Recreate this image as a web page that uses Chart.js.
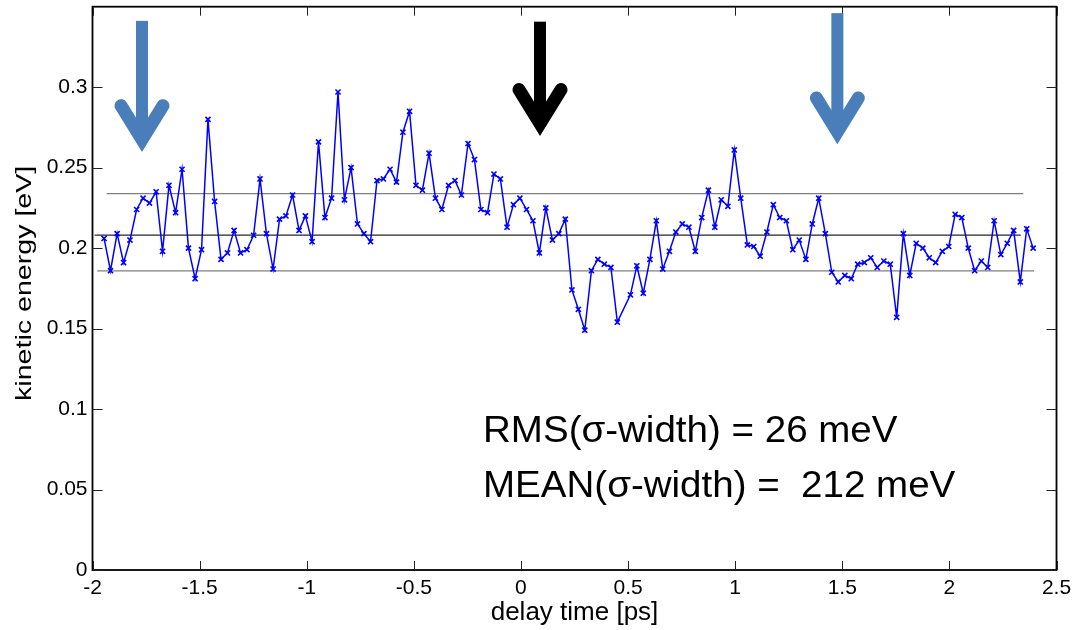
<!DOCTYPE html>
<html><head><meta charset="utf-8">
<script src="https://cdn.jsdelivr.net/npm/chart.js@4/dist/chart.umd.min.js"></script>
<style>html,body{margin:0;padding:0;background:#fff}#wrap{width:1073px;height:630px;position:relative}</style>
</head><body><div id="wrap"><canvas id="c"></canvas></div>
<script>
const delayTime = [-1.946,-1.916,-1.885,-1.855,-1.825,-1.794,-1.764,-1.734,-1.703,-1.673,
-1.643,-1.612,-1.582,-1.552,-1.521,-1.491,-1.461,-1.430,-1.400,-1.370,
-1.339,-1.309,-1.279,-1.248,-1.218,-1.188,-1.157,-1.127,-1.097,-1.066,
-1.036,-1.006,-0.975,-0.945,-0.915,-0.884,-0.854,-0.824,-0.793,-0.763,
-0.733,-0.702,-0.672,-0.642,-0.611,-0.581,-0.551,-0.520,-0.490,-0.460,
-0.429,-0.399,-0.369,-0.338,-0.308,-0.278,-0.247,-0.217,-0.187,-0.156,
-0.126,-0.096,-0.065,-0.035,-0.005,0.026,0.056,0.086,0.116,0.147,
0.177,0.207,0.238,0.268,0.298,0.329,0.359,0.389,0.420,0.450,
0.511,0.541,0.571,0.602,0.632,0.662,0.693,0.723,0.753,0.784,
0.814,0.844,0.875,0.905,0.935,0.966,0.996,1.026,1.057,1.087,
1.117,1.148,1.178,1.208,1.239,1.269,1.299,1.330,1.360,1.390,
1.421,1.451,1.481,1.512,1.542,1.572,1.603,1.633,1.663,1.694,
1.724,1.754,1.785,1.815,1.845,1.876,1.906,1.936,1.967,1.997,
2.027,2.058,2.088,2.118,2.149,2.179,2.209,2.240,2.270,2.300,
2.331,2.361,2.391];
const kineticEnergy = [0.206,0.186,0.209,0.191,0.205,0.224,0.231,0.228,0.235,0.198,
0.239,0.222,0.249,0.200,0.181,0.199,0.280,0.229,0.193,0.197,
0.211,0.197,0.199,0.208,0.243,0.209,0.187,0.218,0.220,0.233,
0.211,0.220,0.204,0.266,0.219,0.231,0.297,0.230,0.250,0.215,
0.209,0.204,0.242,0.243,0.249,0.241,0.272,0.285,0.239,0.236,
0.259,0.231,0.224,0.239,0.242,0.233,0.265,0.255,0.224,0.222,
0.246,0.243,0.213,0.227,0.231,0.224,0.217,0.197,0.225,0.205,
0.209,0.218,0.174,0.162,0.149,0.186,0.193,0.190,0.188,0.154,
0.171,0.189,0.172,0.193,0.217,0.187,0.198,0.210,0.215,0.213,
0.198,0.219,0.236,0.213,0.230,0.226,0.261,0.231,0.202,0.201,
0.195,0.210,0.227,0.219,0.217,0.199,0.205,0.193,0.215,0.231,
0.209,0.185,0.179,0.183,0.181,0.190,0.191,0.194,0.188,0.192,
0.190,0.157,0.209,0.183,0.203,0.200,0.194,0.191,0.198,0.201,
0.221,0.219,0.200,0.186,0.192,0.188,0.217,0.196,0.203,0.211,
0.179,0.212,0.200];
const refLevels = [0.2338, 0.2081, 0.1858];
const refStarts = [-1.934, -1.99, -1.978];
const refEnds = [2.345, 2.333, 2.395];
const refColors = ['#7f7f7f', '#262626', '#7f7f7f'];
const xTicks = [-2,-1.5,-1,-0.5,0,0.5,1,1.5,2,2.5];
const xTickLabels = ['-2','-1.5','-1','-0.5','0','0.5','1','1.5','2','2.5'];
const yTicks = [0,0.05,0.1,0.15,0.2,0.25,0.3];
const yTickLabels = ['0','0.05','0.1','0.15','0.2','0.25','0.3'];
const yTitle = 'kinetic energy [eV]';
const xTitle = 'delay time [ps]';
const annotationLines = ['RMS(\u03c3-width) = 26 meV', 'MEAN(\u03c3-width) =  212 meV'];
const annotationPos = {x: -0.177, y: [0.0796, 0.0454]};
const arrowX = [-1.769, 0.089, 1.477];
const arrowTop = [0.3412, 0.3407, 0.346];
const arrowTip = [0.2593, 0.2693, 0.2641];
const arrowColors = ['#4a7ebb', '#000000', '#4a7ebb'];

const FONT = "'Liberation Sans', Arial, sans-serif";

const datasets = [{
  data: delayTime.map((t, i) => ({x: t, y: kineticEnergy[i]})),
  borderColor: '#0000ff', backgroundColor: '#0000ff',
  borderWidth: 1.5, pointStyle: 'crossRot', pointRadius: 3.6,
  pointBorderWidth: 1.6, pointBorderColor: '#0000ff', tension: 0, order: 0
}];
refLevels.forEach((lv, i) => datasets.push({
  data: [{x: refStarts[i], y: lv}, {x: refEnds[i], y: lv}],
  borderColor: refColors[i], borderWidth: 1.3, pointRadius: 0, order: 1
}));

const decor = {
  id: 'decor',
  afterDatasetsDraw(chart) {
    const {ctx, chartArea: a, scales: {x, y}} = chart;
    ctx.save();
    // box
    ctx.strokeStyle = '#000'; ctx.lineWidth = 1.8;
    ctx.strokeRect(a.left, a.top, a.right - a.left, a.bottom - a.top);
    // inward ticks
    ctx.lineWidth = 1; ctx.strokeStyle = '#222';
    ctx.beginPath();
    xTicks.forEach(v => {
      const p = Math.round(x.getPixelForValue(v)) + 0.5;
      ctx.moveTo(p, a.bottom); ctx.lineTo(p, a.bottom - 9);
      ctx.moveTo(p, a.top); ctx.lineTo(p, a.top + 9);
    });
    yTicks.forEach(v => {
      const p = Math.round(y.getPixelForValue(v)) + 0.5;
      ctx.moveTo(a.left, p); ctx.lineTo(a.left + 10, p);
      ctx.moveTo(a.right, p); ctx.lineTo(a.right - 10, p);
    });
    ctx.stroke();
    // y title (stretched along its length like the reference)
    ctx.fillStyle = '#000';
    ctx.save();
    ctx.translate(31, (a.top + a.bottom) / 2 - 5);
    ctx.rotate(-Math.PI / 2);
    ctx.scale(1.3, 1);
    ctx.font = '22px ' + FONT;
    ctx.textAlign = 'center'; ctx.textBaseline = 'alphabetic';
    ctx.fillText(yTitle, 0, 0);
    ctx.restore();
    // annotation text
    ctx.font = '36px ' + FONT;
    ctx.textAlign = 'left'; ctx.textBaseline = 'alphabetic';
    annotationLines.forEach((s, i) => {
      ctx.save();
      ctx.translate(x.getPixelForValue(annotationPos.x), y.getPixelForValue(annotationPos.y[i]));
      ctx.scale(1.07, 1);
      ctx.fillText(s, 0, 0);
      ctx.restore();
    });
    // arrows
    arrowX.forEach((ax, i) => {
      const cx = x.getPixelForValue(ax);
      const top = y.getPixelForValue(arrowTop[i]);
      const tip = y.getPixelForValue(arrowTip[i]);
      ctx.fillStyle = arrowColors[i]; ctx.strokeStyle = arrowColors[i];
      ctx.fillRect(cx - 6, top, 12, tip - top - 20);
      ctx.lineWidth = 13; ctx.lineCap = 'round'; ctx.lineJoin = 'miter'; ctx.miterLimit = 10;
      ctx.beginPath();
      ctx.moveTo(cx - 21, tip - 47);
      ctx.lineTo(cx, tip - 13);
      ctx.lineTo(cx + 21, tip - 47);
      ctx.stroke();
    });
    ctx.restore();
  }
};

new Chart(document.getElementById('c'), {
  type: 'line',
  data: {datasets},
  options: {
    responsive: true, maintainAspectRatio: false, animation: false,
    layout: {padding: {left: 0, top: 6.7, right: 16.5, bottom: 0}},
    plugins: {legend: {display: false}, tooltip: {enabled: false}},
    scales: {
      x: {
        type: 'linear', min: -2, max: 2.5,
        afterBuildTicks: s => { s.ticks = xTicks.map(v => ({value: v})); },
        afterFit: s => { s.height = 60; s.paddingLeft = 0; s.paddingRight = 0; },
        grid: {display: false, drawTicks: false},
        border: {display: false},
        ticks: {color: '#000', font: {family: FONT, size: 21}, padding: 6, maxRotation: 0, autoSkip: false,
          callback: (v) => xTickLabels[xTicks.indexOf(v)]},
        title: {display: true, text: xTitle, color: '#000', font: {family: FONT, size: 26}, padding: {top: 0, bottom: 2}}
      },
      y: {
        type: 'linear', min: 0, max: 0.35,
        afterBuildTicks: s => { s.ticks = yTicks.map(v => ({value: v})); },
        afterFit: s => { s.width = 92.5; s.paddingTop = 0; s.paddingBottom = 0; },
        grid: {display: false, drawTicks: false},
        border: {display: false},
        ticks: {color: '#000', font: {family: FONT, size: 21}, padding: 5, autoSkip: false,
          callback: (v) => yTickLabels[yTicks.indexOf(v)]},
        title: {display: false}
      }
    }
  },
  plugins: [decor]
});
</script></body></html>
